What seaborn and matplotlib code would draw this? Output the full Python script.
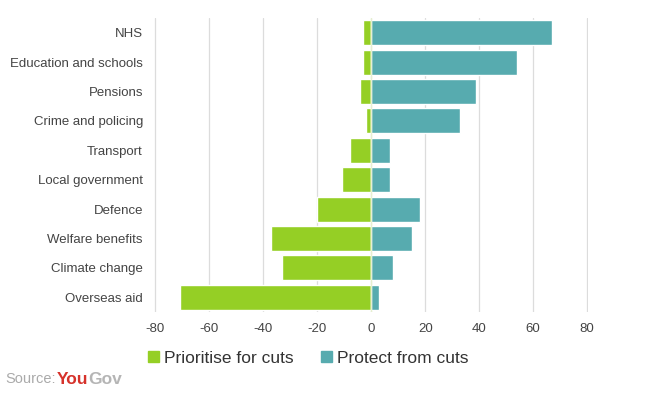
import pandas as pd
import seaborn as sns
import matplotlib.pyplot as plt
from matplotlib.patches import Patch

# Данные
categories = ['NHS', 'Education and schools', 'Pensions', 'Crime and policing',
              'Transport', 'Local government', 'Defence', 'Welfare benefits',
              'Climate change', 'Overseas aid']
prioritise = [-3, -3, -4, -2, -8, -11, -20, -37, -33, -71]
protect = [67, 54, 39, 33, 7, 7, 18, 15, 8, 3]
x_ticks = [-80, -60, -40, -20, 0, 20, 40, 60, 80]

green = '#95cf25'
teal = '#57abaf'

sns.set_style('white')
plt.rcParams['font.family'] = ['Liberation Sans', 'DejaVu Sans']
plt.rcParams['axes.unicode_minus'] = False

df = pd.DataFrame({'category': categories, 'prioritise': prioritise, 'protect': protect})

fig = plt.figure(figsize=(6.6, 3.98), dpi=100)
ax = fig.add_axes([0.2335, 0.216, 0.658, 0.739])

sns.barplot(data=df, x='prioritise', y='category', color=green, width=0.85,
            orient='h', ax=ax, saturation=1, zorder=2)
sns.barplot(data=df, x='protect', y='category', color=teal, width=0.85,
            orient='h', ax=ax, saturation=1, zorder=2)

ax.set_xlim(-80.5, 80.5)
ax.set_xticks(x_ticks)
ax.set_xlabel('')
ax.set_ylabel('')
for v in x_ticks:
    ax.axvline(v, color='#dcdcdc', lw=0.9, zorder=1)
ax.axvline(0, color='#e6f0d0', lw=1, zorder=3)

for s in ax.spines.values():
    s.set_visible(False)
ax.tick_params(axis='both', length=0, colors='#444444', labelsize=9.5)
ax.tick_params(axis='y', pad=8)
ax.tick_params(axis='x', pad=8)

handles = [Patch(color=green, label='Prioritise for cuts'),
           Patch(color=teal, label='Protect from cuts')]
fig.legend(handles=handles, loc='center', bbox_to_anchor=(0.467, 0.1), ncol=2,
           frameon=False, fontsize=12.5, handlelength=0.6, handleheight=0.6,
           handletextpad=0.3, columnspacing=1.6, labelcolor='#333333')

# подпись источника
fig.canvas.draw()
r = fig.canvas.get_renderer()
t1 = fig.text(0.008, 0.038, 'Source:', color='#aaaaaa', fontsize=10.5)
x = t1.get_window_extent(r).x1 + 1
t2 = fig.text(x / 660, 0.036, 'You', color='#d6322b', fontsize=12.5, fontweight='bold')
x = t2.get_window_extent(r).x1
fig.text(x / 660, 0.036, 'Gov', color='#b5b5b5', fontsize=12.5, fontweight='bold')

fig.savefig('out.png', dpi=100)
